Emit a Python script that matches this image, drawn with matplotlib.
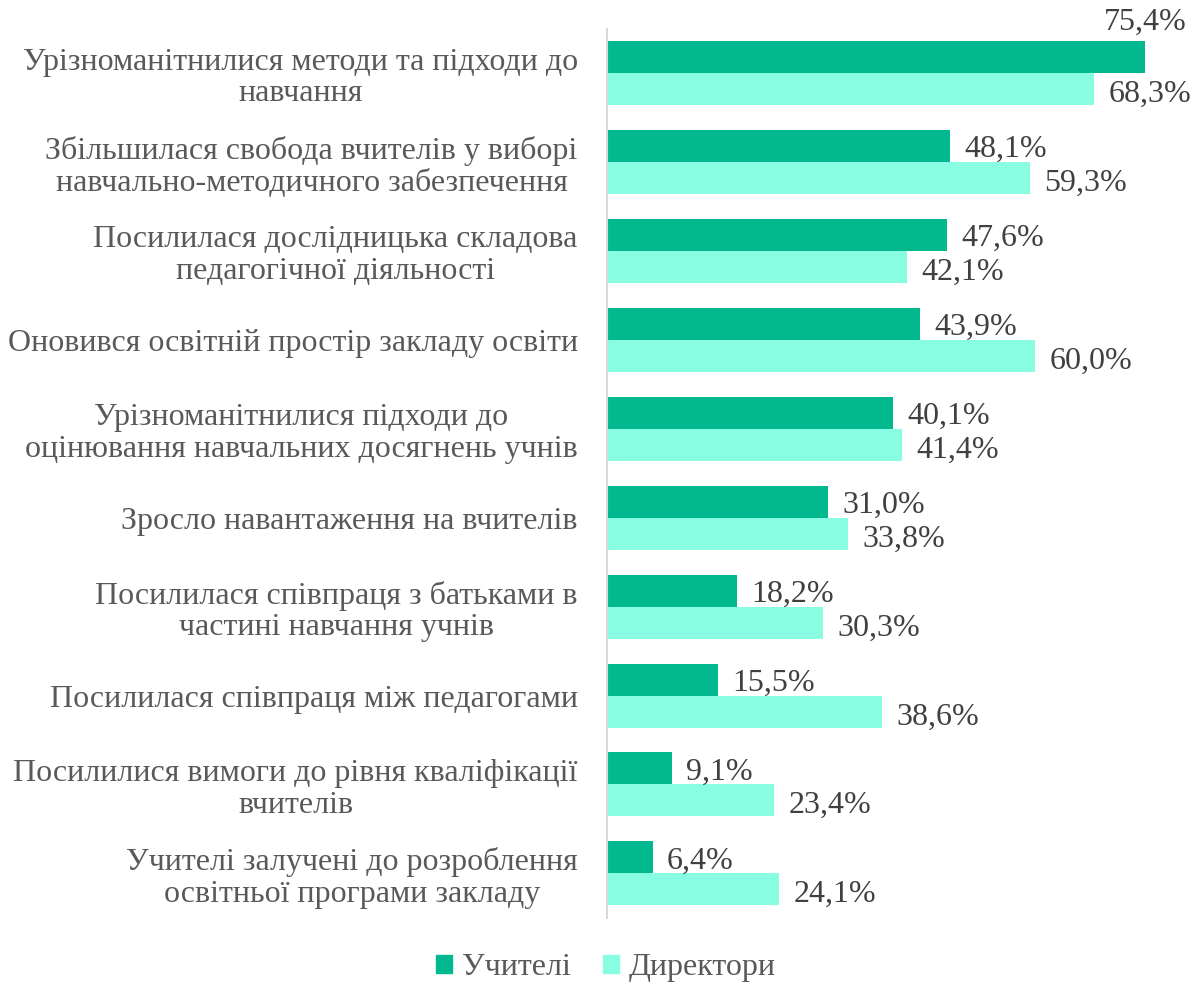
import numpy as np
import matplotlib
matplotlib.use("Agg")
import matplotlib.pyplot as plt
from matplotlib.patches import Patch

categories = [
    "Урізноманітнилися методи та підходи до\nнавчання",
    "Збільшилася свобода вчителів у виборі\nнавчально-методичного забезпечення",
    "Посилилася дослідницька складова\nпедагогічної діяльності",
    "Оновився освітній простір закладу освіти",
    "Урізноманітнилися підходи до\nоцінювання навчальних досягнень учнів",
    "Зросло навантаження на вчителів",
    "Посилилася співпраця з батьками в\nчастині навчання учнів",
    "Посилилася співпраця між педагогами",
    "Посилилися вимоги до рівня кваліфікації\nвчителів",
    "Учителі залучені до розроблення\nосвітньої програми закладу",
]
teachers = [75.4, 48.1, 47.6, 43.9, 40.1, 31.0, 18.2, 15.5, 9.1, 6.4]
directors = [68.3, 59.3, 42.1, 60.0, 41.4, 33.8, 30.3, 38.6, 23.4, 24.1]
series_names = ["Учителі", "Директори"]

C_TEACH = "#02B98F"
C_DIR = "#88FDE1"
TXT = "#404040"
CAT = "#595959"
FS = 23

plt.rcParams["font.family"] = ["Liberation Serif", "DejaVu Serif"]

fig = plt.figure(figsize=(11.97, 9.89), dpi=100)
ax = fig.add_axes([0.507, 0.072, 0.477, 0.899])

y = np.arange(len(categories))
h = 0.36
ax.barh(y - h / 2, teachers, height=h, color=C_TEACH, zorder=2)
ax.barh(y + h / 2, directors, height=h, color=C_DIR, zorder=2)

xmax = 80
ax.set_xlim(0, xmax)
ax.set_ylim(len(categories) - 0.5, -0.5)

fmt = lambda v: f"{v:.1f}%".replace(".", ",")
for i, (t, d) in enumerate(zip(teachers, directors)):
    if t > 70:
        # no room to the right, so the label sits above the bar
        ax.text(t, i - h - 0.05, fmt(t), ha="center", va="bottom",
                fontsize=FS, color=TXT)
    else:
        ax.text(t + 2.0, i - h / 2 + 0.04, fmt(t), ha="left", va="center",
                fontsize=FS, color=TXT)
    ax.text(d + 2.0, i + h / 2 + 0.06, fmt(d), ha="left", va="center",
            fontsize=FS, color=TXT)

ax.set_yticks(y)
ax.set_yticklabels(categories, fontsize=FS, color=CAT,
                   multialignment="center", linespacing=1.12)
ax.tick_params(axis="y", length=0, pad=21)
ax.set_xticks([])
for s in ("top", "right", "bottom"):
    ax.spines[s].set_visible(False)
ax.spines["left"].set_color("#D9D9D9")
ax.spines["left"].set_linewidth(1.5)

handles = [Patch(color=C_TEACH), Patch(color=C_DIR)]
fig.legend(handles, series_names, loc="lower center",
           bbox_to_anchor=(0.506, -0.022), ncol=2, frameon=False,
           fontsize=FS, handlelength=0.5, handleheight=0.5,
           handletextpad=0.3, columnspacing=1.0, labelcolor=CAT)

fig.savefig("out.png", dpi=100)
